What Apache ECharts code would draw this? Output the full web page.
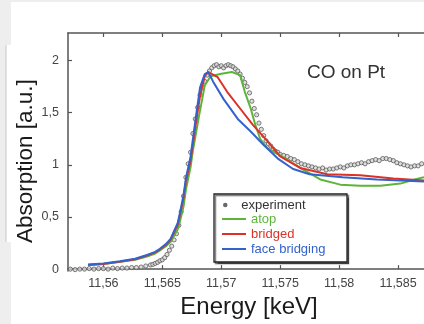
<!DOCTYPE html>
<html>
<head>
<meta charset="utf-8">
<script src="https://cdn.jsdelivr.net/npm/echarts@6/dist/echarts.min.js"></script>
<style>
  html, body { margin: 0; padding: 0; background: #eeeeee; }
  #chart { width: 424px; height: 324px; }
</style>
</head>
<body>
<div id="chart"></div>
<script>
// x tick positions (keV) and y tick positions (a.u.)
const xTicks = [11.56, 11.565, 11.57, 11.575, 11.58, 11.585];
const yTicks = [0, 0.5, 1, 1.5, 2];

// experiment (dots)
const expEnergy = [
  11.5572, 11.5576, 11.5580, 11.5584, 11.5588, 11.5592, 11.5596, 11.5600, 11.5604, 11.5608,
  11.5612, 11.5616, 11.5620, 11.5624, 11.5628, 11.5632, 11.5636,
  11.5640, 11.5642, 11.5644, 11.5646, 11.5648, 11.5650, 11.5652, 11.5654, 11.5656, 11.5658,
  11.5660, 11.5662, 11.5664, 11.5666, 11.5668, 11.5670, 11.5672, 11.5674, 11.5676, 11.5678,
  11.5680, 11.5682, 11.5684, 11.5686, 11.5688, 11.5690, 11.5692, 11.5694, 11.5696, 11.5698,
  11.5700, 11.5702, 11.5704, 11.5706, 11.5708, 11.5710, 11.5712, 11.5714, 11.5716, 11.5718,
  11.5720, 11.5722, 11.5724, 11.5726, 11.5728, 11.5730, 11.5732, 11.5734, 11.5736, 11.5738,
  11.5740, 11.5742, 11.5744, 11.5746, 11.5748, 11.5750,
  11.5753, 11.5756, 11.5759, 11.5762, 11.5765, 11.5768, 11.5771, 11.5774, 11.5777, 11.5780,
  11.5783, 11.5786, 11.5789, 11.5792, 11.5795, 11.5798, 11.5801, 11.5804, 11.5807, 11.5810,
  11.5813, 11.5816, 11.5819, 11.5822, 11.5825, 11.5828, 11.5831, 11.5834, 11.5837, 11.5840,
  11.5843, 11.5846, 11.5849, 11.5852, 11.5855, 11.5858, 11.5861, 11.5864, 11.5867, 11.5870,
  11.5873
];
const expAbs = [
  0.00, -0.005, 0.00, 0.00, 0.005, 0.00, 0.005, 0.005, 0.00, 0.01,
  0.005, 0.01, 0.01, 0.015, 0.015, 0.02, 0.03,
  0.04, 0.045, 0.055, 0.065, 0.08, 0.09, 0.11, 0.14, 0.18, 0.22,
  0.28, 0.34, 0.42, 0.55, 0.70, 0.88, 1.01, 1.12, 1.30, 1.44,
  1.55, 1.67, 1.74, 1.80, 1.86, 1.90, 1.93, 1.95, 1.96, 1.94,
  1.95, 1.93, 1.95, 1.96, 1.95, 1.94, 1.92, 1.90, 1.87, 1.83,
  1.79, 1.75, 1.69, 1.61, 1.54, 1.48, 1.40, 1.34, 1.28, 1.23,
  1.20, 1.18, 1.15, 1.13, 1.12, 1.10,
  1.09, 1.08, 1.06, 1.05, 1.03, 1.01, 1.00, 0.99, 0.98, 0.97,
  0.96, 0.97, 0.95, 0.96, 0.96, 0.97, 0.98, 0.97, 0.99, 1.00,
  1.00, 1.01, 1.02, 1.01, 1.03, 1.04, 1.05, 1.04, 1.06, 1.06,
  1.05, 1.04, 1.02, 1.01, 1.00, 0.99, 0.98, 0.99, 0.99, 1.01,
  1.01
];

// model: atop
const atopEnergy = [
  11.5587, 11.5600, 11.5614, 11.5627, 11.5637, 11.5644, 11.5648, 11.5653, 11.5657, 11.5659,
  11.5663, 11.5665, 11.5668, 11.5670, 11.5674, 11.5676, 11.5681, 11.5686, 11.5691, 11.5699,
  11.5709, 11.5716, 11.5720, 11.5725, 11.5729, 11.5733, 11.5739, 11.5750, 11.5767, 11.5784,
  11.5801, 11.5818, 11.5835, 11.5852, 11.5864, 11.5872
];
const atopAbs = [
  0.04, 0.05, 0.07, 0.09, 0.12, 0.15, 0.18, 0.22, 0.26, 0.30,
  0.38, 0.46, 0.60, 0.76, 0.98, 1.14, 1.46, 1.76, 1.85, 1.87,
  1.89, 1.86, 1.70, 1.54, 1.38, 1.25, 1.16, 1.09, 0.97, 0.86,
  0.81, 0.80, 0.80, 0.82, 0.86, 0.88
];

// model: bridged
const bridgedEnergy = [
  11.5587, 11.5600, 11.5614, 11.5627, 11.5637, 11.5644, 11.5648, 11.5653, 11.5657, 11.5659,
  11.5663, 11.5665, 11.5668, 11.5670, 11.5674, 11.5678, 11.5682, 11.5686, 11.5689, 11.5697,
  11.5705, 11.5716, 11.5727, 11.5739, 11.5750, 11.5767, 11.5790, 11.5818, 11.5846, 11.5872
];
const bridgedAbs = [
  0.04, 0.05, 0.07, 0.095, 0.13, 0.16, 0.19, 0.23, 0.28, 0.33,
  0.42, 0.52, 0.68, 0.84, 1.04, 1.36, 1.66, 1.85, 1.89, 1.84,
  1.70, 1.54, 1.38, 1.23, 1.08, 0.97, 0.91, 0.90, 0.87, 0.85
];

// model: face bridging
const faceEnergy = [
  11.5587, 11.5600, 11.5614, 11.5627, 11.5637, 11.5644, 11.5648, 11.5653, 11.5657, 11.5659,
  11.5663, 11.5665, 11.5668, 11.5670, 11.5674, 11.5678, 11.5682, 11.5686, 11.5689, 11.5693,
  11.5702, 11.5714, 11.5725, 11.5736, 11.5748, 11.5761, 11.5775, 11.5803, 11.5832, 11.5872
];
const faceAbs = [
  0.045, 0.055, 0.075, 0.10, 0.135, 0.165, 0.195, 0.24, 0.29, 0.34,
  0.44, 0.54, 0.71, 0.87, 1.08, 1.42, 1.74, 1.87, 1.89, 1.80,
  1.63, 1.44, 1.32, 1.19, 1.06, 0.96, 0.91, 0.88, 0.86, 0.84
];

const zip = (xs, ys) => xs.map((x, i) => [x, ys[i]]);
const comma = v => String(v).replace('.', ',');

const FONT = "'Liberation Sans', Arial, sans-serif";
const GREEN = '#5cb53a';
const RED = '#dc3226';
const BLUE = '#3462cc';

const chart = echarts.init(document.getElementById('chart'), null, { renderer: 'canvas' });

const option = {
  backgroundColor: '#eeeeee',
  animation: false,
  textStyle: { fontFamily: FONT },
  title: {
    text: 'CO on Pt',
    left: 307,
    top: 63,
    padding: 0,
    textStyle: { fontFamily: FONT, fontSize: 19, fontWeight: 'normal', color: '#333' }
  },
  graphic: [
    { type: 'rect', z: -10, shape: { x: 11, y: 2, width: 413, height: 322 }, style: { fill: '#ffffff' } },
    { type: 'rect', z: -10, shape: { x: 6, y: 45, width: 6, height: 197 }, style: { fill: '#ffffff' } },
    { type: 'line', z: -9, shape: { x1: 6, y1: 45, x2: 6, y2: 242 }, style: { stroke: '#c8c8c8', lineWidth: 1 } },
    {
      type: 'rect', z: 3,
      shape: { x: 214, y: 194, width: 133, height: 68 },
      style: {
        fill: '#ffffff', stroke: '#222', lineWidth: 1.3,
        shadowColor: 'rgba(0,0,0,0.55)', shadowOffsetX: 1.5, shadowOffsetY: 1.5, shadowBlur: 1
      }
    }
  ],
  legend: [
    {
      z: 5,
      left: 223, top: 198.5,
      padding: 0,
      itemWidth: 22, itemHeight: 4.5,
      data: [{ name: 'experiment', icon: 'circle' }],
      textStyle: { fontFamily: FONT, fontSize: 13, color: '#333', lineHeight: 13 },
      itemStyle: { color: '#444', borderWidth: 0 },
      selectedMode: false
    },
    {
      z: 5,
      left: 222, top: 212.5,
      padding: 0,
      orient: 'vertical',
      itemWidth: 24, itemHeight: 2, itemGap: 2,
      data: [
        { name: 'atop', icon: 'rect', textStyle: { color: GREEN } },
        { name: 'bridged', icon: 'rect', textStyle: { color: RED } },
        { name: 'face bridging', icon: 'rect', textStyle: { color: BLUE } }
      ],
      textStyle: { fontFamily: FONT, fontSize: 13, lineHeight: 13 },
      selectedMode: false
    }
  ],
  grid: { left: 68, top: 33, right: 0, bottom: 49 },
  xAxis: [
    {
      type: 'value',
      min: 11.557, max: 11.5872,
      name: 'Energy [keV]',
      nameLocation: 'middle',
      nameGap: 20,
      nameTextStyle: { fontFamily: FONT, fontSize: 24, color: '#1a1a1a', padding: [0, 0, 0, 6] },
      axisLine: { lineStyle: { color: '#555', width: 1.5 } },
      axisTick: { inside: true, length: 4, customValues: xTicks, lineStyle: { color: '#555', width: 1.2 } },
      axisLabel: {
        customValues: xTicks, formatter: comma, margin: 6,
        fontFamily: FONT, fontSize: 12.5, color: '#444'
      },
      splitLine: { show: false }
    },
    {
      type: 'value',
      position: 'top',
      min: 11.557, max: 11.5872,
      axisLine: { lineStyle: { color: '#555', width: 1.5 } },
      axisTick: { inside: true, length: 4, customValues: xTicks, lineStyle: { color: '#555', width: 1.2 } },
      axisLabel: { show: false },
      splitLine: { show: false }
    }
  ],
  yAxis: {
    type: 'value',
    min: -0.019, max: 2.264,
    name: 'Absorption [a.u.]',
    nameLocation: 'middle',
    nameRotate: 90,
    nameGap: 31,
    nameMoveOverlap: false,
    nameTextStyle: { fontFamily: FONT, fontSize: 22.5, color: '#1a1a1a', padding: [0, 18, 0, 0] },
    axisLine: { show: true, lineStyle: { color: '#555', width: 1.5 } },
    axisTick: { show: true, inside: true, length: 4, customValues: yTicks, lineStyle: { color: '#555', width: 1.2 } },
    axisLabel: {
      customValues: yTicks, formatter: comma, margin: 9,
      fontFamily: FONT, fontSize: 12.5, color: '#444'
    },
    splitLine: { show: false }
  },
  series: [
    {
      name: 'experiment',
      type: 'scatter',
      data: zip(expEnergy, expAbs),
      symbol: 'circle',
      symbolSize: 4.2,
      itemStyle: { color: '#d6d6d6', borderColor: '#5a5a5a', borderWidth: 1 },
      z: 2
    },
    {
      name: 'atop',
      type: 'line',
      data: zip(atopEnergy, atopAbs),
      symbol: 'none',
      lineStyle: { color: GREEN, width: 2 },
      itemStyle: { color: GREEN },
      z: 3
    },
    {
      name: 'bridged',
      type: 'line',
      data: zip(bridgedEnergy, bridgedAbs),
      symbol: 'none',
      lineStyle: { color: RED, width: 2 },
      itemStyle: { color: RED },
      z: 3
    },
    {
      name: 'face bridging',
      type: 'line',
      data: zip(faceEnergy, faceAbs),
      symbol: 'none',
      lineStyle: { color: BLUE, width: 2 },
      itemStyle: { color: BLUE },
      z: 3
    }
  ]
};

chart.setOption(option);
</script>
</body>
</html>
